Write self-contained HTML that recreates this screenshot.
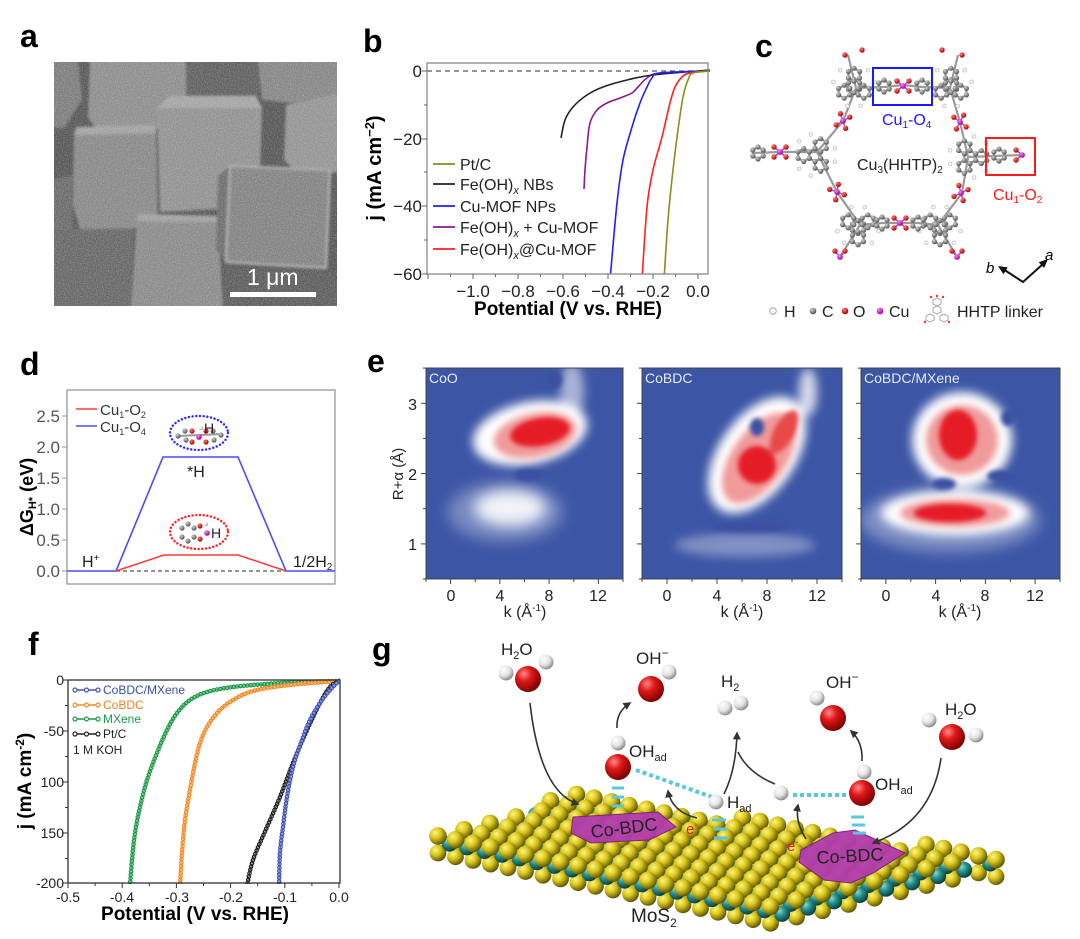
<!DOCTYPE html>
<html><head><meta charset="utf-8">
<style>
html,body{margin:0;padding:0;background:#fff;width:1080px;height:939px;overflow:hidden}
svg{display:block;font-family:"Liberation Sans",Arial,sans-serif}
.lbl{font-weight:bold;font-size:32px;fill:#000}
</style></head><body>
<svg id="S" xmlns="http://www.w3.org/2000/svg" width="1080" height="939" viewBox="0 0 1080 939">
<defs>
 <radialGradient id="gY" cx="35%" cy="32%" r="70%"><stop offset="0" stop-color="#fff480"/><stop offset="0.45" stop-color="#d9c61c"/><stop offset="1" stop-color="#5e5406"/></radialGradient>
 <radialGradient id="gT" cx="35%" cy="32%" r="70%"><stop offset="0" stop-color="#8ad8d2"/><stop offset="0.45" stop-color="#23908c"/><stop offset="1" stop-color="#0a3e3e"/></radialGradient>
 <radialGradient id="gR" cx="35%" cy="30%" r="72%"><stop offset="0" stop-color="#ff8a8a"/><stop offset="0.4" stop-color="#e01818"/><stop offset="1" stop-color="#7a0000"/></radialGradient>
 <radialGradient id="gW" cx="35%" cy="30%" r="72%"><stop offset="0" stop-color="#ffffff"/><stop offset="0.55" stop-color="#e4e4e4"/><stop offset="1" stop-color="#8a8a8a"/></radialGradient>
 <radialGradient id="gC" cx="35%" cy="30%" r="70%"><stop offset="0" stop-color="#d0d0d0"/><stop offset="1" stop-color="#555"/></radialGradient>
 <radialGradient id="gO" cx="35%" cy="30%" r="70%"><stop offset="0" stop-color="#ff7a7a"/><stop offset="1" stop-color="#b00000"/></radialGradient>
 <radialGradient id="gM" cx="35%" cy="30%" r="70%"><stop offset="0" stop-color="#ff80ff"/><stop offset="1" stop-color="#a000a0"/></radialGradient>
 <filter id="b8" x="-60%" y="-60%" width="220%" height="220%"><feGaussianBlur stdDeviation="7"/></filter>
 <filter id="b5" x="-60%" y="-60%" width="220%" height="220%"><feGaussianBlur stdDeviation="5"/></filter>
 <filter id="b3" x="-60%" y="-60%" width="220%" height="220%"><feGaussianBlur stdDeviation="3.5"/></filter>
 <filter id="b2" x="-60%" y="-60%" width="220%" height="220%"><feGaussianBlur stdDeviation="2.5"/></filter>
 <filter id="b1" x="-10%" y="-10%" width="120%" height="120%"><feGaussianBlur stdDeviation="1.2"/></filter>
 <filter id="grain" x="0" y="0" width="100%" height="100%"><feTurbulence type="fractalNoise" baseFrequency="0.85" numOctaves="2" seed="4"/><feColorMatrix type="matrix" values="0 0 0 0 1  0 0 0 0 1  0 0 0 0 1  0.6 0 0 0 -0.22"/></filter>
 <clipPath id="cA"><rect x="54" y="62" width="283" height="244"/></clipPath>
 <clipPath id="cB"><rect x="427" y="63" width="283" height="211"/></clipPath>
 <clipPath id="cF"><rect x="68" y="678" width="272" height="206"/></clipPath>
 <clipPath id="cE1"><rect x="426" y="368" width="197" height="211"/></clipPath>
 <clipPath id="cE2"><rect x="642" y="368" width="200" height="211"/></clipPath>
 <clipPath id="cE3"><rect x="861" y="368" width="199" height="211"/></clipPath>
 <marker id="ah" viewBox="0 0 10 10" refX="8" refY="5" markerWidth="5" markerHeight="5" orient="auto"><path d="M0,0 L10,5 L0,10 z" fill="#333"/></marker>
</defs>
<rect width="1080" height="939" fill="#fff"/>

<!-- ===== a ===== -->
<text class="lbl" x="20" y="47">a</text>
<g clip-path="url(#cA)">
 <rect x="54" y="62" width="283" height="244" fill="#565656"/>
 <g filter="url(#b1)">
  <path d="M48,60 L78,60 L82,100 L64,128 L48,128Z" fill="#7c7c7c"/>
  <path d="M48,180 L72,175 L74,300 L48,310Z" fill="#6a6a6a"/>
  <path d="M90,58 L188,58 L190,118 L184,129 L97,129 L88,118Z" fill="#8d8d8d"/>
  <path d="M186,58 L262,58 L258,96 L186,100Z" fill="#5f5f5f"/>
  <path d="M258,58 L340,58 L340,95 L292,103 L262,100Z" fill="#868686"/>
  <path d="M286,105 L340,93 L340,172 L300,176 L284,160Z" fill="#939393"/>
  <path d="M74,131 L156,129 L158,228 L80,229 L73,205Z" fill="#888"/>
  <path d="M76,127 L155,125 L156,133 L75,135Z" fill="#a2a2a2"/>
  <path d="M157,108 L170,96 L256,96 L262,108 L259,207 L160,212Z" fill="#919191"/>
  <path d="M157,108 L170,96 L256,96 L262,108Z" fill="#a4a4a4"/>
  <path d="M137,214 L218,216 L223,310 L131,310Z" fill="#8a8a8a"/>
  <path d="M137,214 L218,216 L219,222 L137,221Z" fill="#a0a0a0"/>
  <path d="M54,229 L133,229 L131,310 L54,310Z" fill="#666"/>
  <path d="M225,268 L340,272 L340,310 L223,310Z" fill="#5c5c5c"/>
  <path d="M218,176 L230,166 L228,262 L216,250Z" fill="#6c6c6c"/>
  <path d="M230,166 L330,170 L326,268 L226,262Z" fill="#828282" stroke="#a6a6a6" stroke-width="2.5" stroke-linejoin="round"/>
 </g>
 <rect x="54" y="62" width="283" height="244" filter="url(#grain)"/>
</g>
<rect x="230" y="292" width="86" height="5" fill="#fff"/>
<text x="247" y="285" font-size="23" fill="#fff">1 μm</text>

<!-- ===== b ===== -->
<text class="lbl" x="363" y="52">b</text>
<line x1="427" y1="71" x2="710" y2="71" stroke="#555" stroke-dasharray="5,4" stroke-width="1.2"/>
<g id="bC" clip-path="url(#cB)" fill="none" stroke-width="1.6" stroke-linejoin="round"></g>
<rect x="427" y="63" width="281" height="211" fill="none" stroke="#8a8a8a" stroke-width="1.3"/>
<g id="bT" stroke="#666" stroke-width="1"></g>
<g font-size="17" fill="#222" text-anchor="end"><text x="422" y="77">0</text><text x="422" y="145">−20</text><text x="422" y="212">−40</text><text x="422" y="280">−60</text></g>
<g font-size="17" fill="#222" text-anchor="middle"><text x="473" y="297">−1.0</text><text x="518" y="297">−0.8</text><text x="563" y="297">−0.6</text><text x="608" y="297">−0.4</text><text x="653" y="297">−0.2</text><text x="698" y="297">0.0</text></g>
<text font-size="19" font-weight="bold" x="568" y="315" text-anchor="middle">Potential (V vs. RHE)</text>
<text font-size="20" font-weight="bold" transform="translate(381,168) rotate(-90)" text-anchor="middle">j (mA cm<tspan dy="-7" font-size="13">−2</tspan><tspan dy="7">)</tspan></text>
<g stroke-width="1.8">
 <line x1="433" x2="455" y1="164" y2="164" stroke="#8c8c20"/>
 <line x1="433" x2="455" y1="184" y2="184" stroke="#222"/>
 <line x1="433" x2="455" y1="206" y2="206" stroke="#2020ff"/>
 <line x1="433" x2="455" y1="227" y2="227" stroke="#8b1a8b"/>
 <line x1="433" x2="455" y1="249" y2="249" stroke="#ff2020"/>
</g>
<g font-size="16" fill="#222">
 <text x="460" y="170">Pt/C</text>
 <text x="460" y="190">Fe(OH)<tspan font-style="italic" font-size="11" dy="4">x</tspan><tspan dy="-4"> NBs</tspan></text>
 <text x="460" y="212">Cu-MOF NPs</text>
 <text x="460" y="233">Fe(OH)<tspan font-style="italic" font-size="11" dy="4">x</tspan><tspan dy="-4"> + Cu-MOF</tspan></text>
 <text x="460" y="255">Fe(OH)<tspan font-style="italic" font-size="11" dy="4">x</tspan><tspan dy="-4">@Cu-MOF</tspan></text>
</g>

<!-- ===== c ===== -->
<text class="lbl" x="755" y="57">c</text>
<g id="mol"></g>
<rect x="873" y="68" width="59" height="37" fill="none" stroke="#1a1aff" stroke-width="2"/>
<rect x="986" y="138" width="49" height="37" fill="none" stroke="#ff1a1a" stroke-width="2"/>
<text x="882" y="125" font-size="16" fill="#1a1aff">Cu<tspan font-size="10" dy="3">1</tspan><tspan dy="-3">-O</tspan><tspan font-size="10" dy="3">4</tspan></text>
<text x="993" y="200" font-size="16" fill="#ff1a1a">Cu<tspan font-size="10" dy="3">1</tspan><tspan dy="-3">-O</tspan><tspan font-size="10" dy="3">2</tspan></text>
<text x="857" y="170" font-size="16" fill="#222">Cu<tspan font-size="10" dy="3">3</tspan><tspan dy="-3">(HHTP)</tspan><tspan font-size="10" dy="3">2</tspan></text>
<path d="M1003,269 L1023,282 L1043,264" fill="none" stroke="#111" stroke-width="2"/>
<polygon points="998,266 1007.7,267.4 1003.5,274.2" fill="#111"/>
<polygon points="1048,259 1044.1,268 1038.7,262.2" fill="#111"/>
<text x="986" y="273" font-size="15" font-style="italic">b</text>
<text x="1045" y="260" font-size="15" font-style="italic">a</text>
<circle cx="773" cy="311" r="3.3" fill="#f4f4f4" stroke="#999" stroke-width="0.8"/>
<text x="784" y="317" font-size="16" fill="#222">H</text>
<circle cx="813" cy="311" r="3.3" fill="url(#gC)"/>
<text x="822" y="317" font-size="16" fill="#222">C</text>
<circle cx="845" cy="311" r="3.3" fill="url(#gO)"/>
<text x="853" y="317" font-size="16" fill="#222">O</text>
<circle cx="880" cy="311" r="3.3" fill="url(#gM)"/>
<text x="889" y="317" font-size="16" fill="#222">Cu</text>
<g stroke="#999" stroke-width="0.8" fill="none">
 <polygon points="937,306 941,308 941,312 937,314 933,312 933,308"/>
 <polygon points="937,298 941,300 941,304 937,306 933,304 933,300"/>
 <polygon points="930,314 934,316 934,320 930,322 926,320 926,316"/>
 <polygon points="944,314 948,316 948,320 944,322 940,320 940,316"/>
</g>
<g fill="#e33"><circle cx="937" cy="296" r="1.2"/><circle cx="925" cy="322" r="1.2"/><circle cx="949" cy="322" r="1.2"/><circle cx="931" cy="297" r="1.2"/><circle cx="943" cy="297" r="1.2"/></g>
<text x="957" y="317" font-size="16" fill="#222">HHTP linker</text>

<!-- ===== d ===== -->
<text class="lbl" x="20" y="375">d</text>
<rect x="67" y="390" width="268" height="194" fill="none" stroke="#999" stroke-width="1.3"/>
<g stroke="#999" stroke-width="1"><line x1="62" x2="67" y1="571" y2="571"/><line x1="62" x2="67" y1="540" y2="540"/><line x1="62" x2="67" y1="509" y2="509"/><line x1="62" x2="67" y1="478" y2="478"/><line x1="62" x2="67" y1="447" y2="447"/><line x1="62" x2="67" y1="416" y2="416"/></g>
<g font-size="17" fill="#555" text-anchor="end"><text x="60" y="577">0.0</text><text x="60" y="546">0.5</text><text x="60" y="515">1.0</text><text x="60" y="484">1.5</text><text x="60" y="453">2.0</text><text x="60" y="422">2.5</text></g>
<text font-size="18" font-weight="bold" transform="translate(33,497) rotate(-90)" text-anchor="middle">ΔG<tspan font-size="11" dy="3">H*</tspan><tspan dy="-3"> (eV)</tspan></text>
<line x1="116" y1="571" x2="286" y2="571" stroke="#555" stroke-dasharray="4,3" stroke-width="1.2"/>
<polyline points="67,571 116,571 163,457 238,457 286,571 335,571" fill="none" stroke="#4a4aff" stroke-width="1.6"/>
<polyline points="116,571 164,555 238,555 286,571" fill="none" stroke="#ff3a3a" stroke-width="1.6"/>
<line x1="76" x2="97" y1="409" y2="409" stroke="#ff3a3a" stroke-width="1.6"/>
<line x1="76" x2="97" y1="426" y2="426" stroke="#4a4aff" stroke-width="1.6"/>
<text x="100" y="415" font-size="15" fill="#333">Cu<tspan font-size="9" dy="3">1</tspan><tspan dy="-3">-O</tspan><tspan font-size="9" dy="3">2</tspan></text>
<text x="100" y="432" font-size="15" fill="#333">Cu<tspan font-size="9" dy="3">1</tspan><tspan dy="-3">-O</tspan><tspan font-size="9" dy="3">4</tspan></text>
<ellipse cx="199" cy="433" rx="29" ry="17" fill="none" stroke="#2a2aff" stroke-width="2.4" stroke-dasharray="0.1,3.6" stroke-linecap="round"/>
<ellipse cx="199" cy="532" rx="29" ry="17" fill="none" stroke="#ff2020" stroke-width="2.4" stroke-dasharray="0.1,3.6" stroke-linecap="round"/>
<g>
 <line x1="178" y1="436" x2="222" y2="434" stroke="#999" stroke-width="2"/>
 <circle cx="178" cy="436" r="2.6" fill="url(#gC)"/><circle cx="185" cy="431" r="2.6" fill="url(#gC)"/><circle cx="186" cy="440" r="2.6" fill="url(#gC)"/>
 <circle cx="192" cy="431" r="2.6" fill="url(#gO)"/><circle cx="192" cy="442" r="2.6" fill="url(#gO)"/>
 <circle cx="206" cy="431" r="2.6" fill="url(#gO)"/><circle cx="206" cy="442" r="2.6" fill="url(#gO)"/>
 <circle cx="199" cy="437" r="2.8" fill="url(#gM)"/><circle cx="201" cy="428" r="2" fill="url(#gW)"/>
 <circle cx="213" cy="431" r="2.6" fill="url(#gC)"/><circle cx="214" cy="440" r="2.6" fill="url(#gC)"/><circle cx="221" cy="435" r="2.6" fill="url(#gC)"/>
 <text x="204" y="433" font-size="14" fill="#222">H</text>
</g>
<g>
 <circle cx="182" cy="528" r="2.6" fill="url(#gC)"/><circle cx="182" cy="537" r="2.6" fill="url(#gC)"/><circle cx="188" cy="524" r="2.6" fill="url(#gC)"/><circle cx="188" cy="541" r="2.6" fill="url(#gC)"/>
 <circle cx="194" cy="528" r="2.6" fill="url(#gC)"/><circle cx="194" cy="537" r="2.6" fill="url(#gC)"/>
 <circle cx="200" cy="526" r="2.6" fill="url(#gO)"/><circle cx="200" cy="539" r="2.6" fill="url(#gO)"/>
 <circle cx="207" cy="533" r="2.8" fill="url(#gM)"/><circle cx="206" cy="524" r="2" fill="url(#gW)"/>
 <text x="211" y="538" font-size="14" fill="#222">H</text>
</g>
<text x="187" y="477" font-size="16" fill="#222">*H</text>
<text x="82" y="567" font-size="16" fill="#222">H<tspan dy="-6" font-size="10">+</tspan></text>
<text x="293" y="567" font-size="16" fill="#222">1/2H<tspan dy="3" font-size="10">2</tspan></text>

<!-- ===== e ===== -->
<text class="lbl" x="367" y="372">e</text>
<!-- CoO -->
<g clip-path="url(#cE1)">
 <rect x="426" y="368" width="197" height="211" fill="#3c55a5"/>
 <g filter="url(#b8)" fill="#fff">
  <ellipse cx="505" cy="512" rx="58" ry="30" opacity="0.3"/>
  <ellipse cx="510" cy="508" rx="36" ry="18" opacity="0.9"/>
 </g>
 <g filter="url(#b5)" fill="#fff">
  <ellipse cx="530" cy="433" rx="58" ry="31" transform="rotate(-12 530 433)"/>
  <ellipse cx="572" cy="392" rx="12" ry="30" opacity="0.55"/>
 </g>
 <g filter="url(#b3)"><ellipse cx="535" cy="435" rx="42" ry="22" fill="#f09a9a" transform="rotate(-12 535 435)"/></g>
 <g filter="url(#b2)"><ellipse cx="540" cy="432" rx="30" ry="14" fill="#e51f25" transform="rotate(-10 540 432)"/></g>
 <g filter="url(#b2)" fill="#3a50a0"><ellipse cx="555" cy="380" rx="7" ry="9"/><ellipse cx="528" cy="475" rx="14" ry="6"/></g>
</g>
<rect x="426" y="368" width="197" height="211" fill="none" stroke="#444" stroke-width="1"/>
<!-- CoBDC -->
<g clip-path="url(#cE2)">
 <rect x="642" y="368" width="200" height="211" fill="#3c55a5"/>
 <g filter="url(#b5)" fill="#fff">
  <ellipse cx="745" cy="545" rx="70" ry="12" opacity="0.35"/>
  <ellipse cx="757" cy="455" rx="38" ry="66" transform="rotate(35 757 455)"/>
  <ellipse cx="808" cy="392" rx="9" ry="24" opacity="0.8"/>
 </g>
 <g filter="url(#b3)" fill="#f09a9a">
  <ellipse cx="759" cy="458" rx="27" ry="52" transform="rotate(35 759 458)"/>
 </g>
 <g filter="url(#b2)">
  <ellipse cx="757" cy="465" rx="19" ry="19" fill="#e51f25"/>
  <ellipse cx="784" cy="432" rx="10" ry="24" fill="#e84a4a" transform="rotate(28 784 432)"/>
 </g>
 <g filter="url(#b2)" fill="#3a50a0"><ellipse cx="757" cy="427" rx="7" ry="9"/><ellipse cx="750" cy="527" rx="40" ry="5"/></g>
</g>
<rect x="642" y="368" width="200" height="211" fill="none" stroke="#444" stroke-width="1"/>
<!-- MXene -->
<g clip-path="url(#cE3)">
 <rect x="861" y="368" width="199" height="211" fill="#3c55a5"/>
 <g filter="url(#b8)" fill="#fff"><ellipse cx="950" cy="520" rx="90" ry="32" opacity="0.35"/></g>
 <g filter="url(#b5)" fill="#fff">
  <ellipse cx="955" cy="513" rx="74" ry="22"/>
  <ellipse cx="962" cy="440" rx="50" ry="48"/>
 </g>
 <g filter="url(#b3)" fill="#f09a9a"><ellipse cx="962" cy="440" rx="36" ry="35"/><ellipse cx="955" cy="513" rx="55" ry="14"/></g>
 <g filter="url(#b2)" fill="#e51f25"><ellipse cx="958" cy="435" rx="19" ry="25"/><ellipse cx="950" cy="513" rx="36" ry="9"/></g>
 <g filter="url(#b2)" fill="#3a50a0"><ellipse cx="944" cy="484" rx="12" ry="6"/><ellipse cx="999" cy="476" rx="12" ry="6"/><ellipse cx="1008" cy="418" rx="7" ry="8"/></g>
</g>
<rect x="861" y="368" width="199" height="211" fill="none" stroke="#444" stroke-width="1"/>
<g font-size="14" fill="#e6e9f4"><text x="429" y="383">CoO</text><text x="645" y="383">CoBDC</text><text x="864" y="383">CoBDC/MXene</text></g>
<g id="eT" stroke="#444" stroke-width="1"></g>
<g font-size="16" fill="#222" text-anchor="end"><text x="417" y="410">3</text><text x="417" y="480">2</text><text x="417" y="550">1</text></g>
<g font-size="16" fill="#222" text-anchor="middle">
 <text x="451" y="601">0</text><text x="500" y="601">4</text><text x="549" y="601">8</text><text x="598" y="601">12</text>
 <text x="667" y="601">0</text><text x="717" y="601">4</text><text x="767" y="601">8</text><text x="817" y="601">12</text>
 <text x="886" y="601">0</text><text x="936" y="601">4</text><text x="985" y="601">8</text><text x="1035" y="601">12</text>
 <text x="525" y="617">k (Å<tspan dy="-6" font-size="10">-1</tspan><tspan dy="6">)</tspan></text>
 <text x="742" y="617">k (Å<tspan dy="-6" font-size="10">-1</tspan><tspan dy="6">)</tspan></text>
 <text x="960" y="617">k (Å<tspan dy="-6" font-size="10">-1</tspan><tspan dy="6">)</tspan></text>
</g>
<text font-size="15" fill="#222" transform="translate(403,474) rotate(-90)" text-anchor="middle">R+α (Å)</text>

<!-- ===== f ===== -->
<text class="lbl" x="28" y="655">f</text>
<g id="fC" clip-path="url(#cF)" fill="none"></g>
<rect x="68" y="680" width="272" height="203" fill="none" stroke="#333" stroke-width="1.3"/>
<g id="fT" stroke="#333" stroke-width="1"></g>
<g font-size="14" fill="#222" text-anchor="end"><text x="64" y="685">0</text><text x="64" y="736">-50</text><text x="64" y="787">100</text><text x="64" y="838">150</text><text x="64" y="888">-200</text></g>
<g font-size="14" fill="#222" text-anchor="middle"><text x="68" y="902">-0.5</text><text x="122" y="902">-0.4</text><text x="177" y="902">-0.3</text><text x="231" y="902">-0.2</text><text x="285" y="902">-0.1</text><text x="339" y="902">0.0</text></g>
<text font-size="19" font-weight="bold" x="195" y="920" text-anchor="middle">Potential (V vs. RHE)</text>
<text font-size="19" font-weight="bold" transform="translate(31,781) rotate(-90)" text-anchor="middle">j (mA cm<tspan dy="-7" font-size="12">-2</tspan><tspan dy="7">)</tspan></text>
<g id="fL"></g>
<g font-size="12">
 <text x="103" y="694" fill="#3a4fb0">CoBDC/MXene</text>
 <text x="103" y="709" fill="#f08020">CoBDC</text>
 <text x="103" y="723" fill="#1a9a50">MXene</text>
 <text x="103" y="738" fill="#222">Pt/C</text>
 <text x="73" y="754" fill="#222">1 M KOH</text>
</g>

<!-- ===== g ===== -->
<text class="lbl" x="372" y="660">g</text>
<g id="mos"></g>
<path d="M573,817 L658,812 L676,827 L649,840 L591,843 L571,833Z" fill="#b23cae" stroke="#7a1e78" stroke-width="1" opacity="0.95"/>
<path d="M801,850 L833,833 L855,830 L905,853 L873,873 L851,883 L824,880 L799,862Z" fill="#b23cae" stroke="#7a1e78" stroke-width="1" opacity="0.95"/>
<text x="624" y="834" font-size="18" fill="#222" text-anchor="middle" transform="rotate(-7 624 828)">Co-BDC</text>
<text x="850" y="862" font-size="18" fill="#222" text-anchor="middle" transform="rotate(-3 850 856)">Co-BDC</text>
<g stroke="#5ac8dc" stroke-width="4" fill="none">
 <line x1="636" y1="770" x2="712" y2="797" stroke-dasharray="4,3"/>
 <line x1="793" y1="795" x2="848" y2="795" stroke-dasharray="4,3"/>
 <g stroke-width="3"><line x1="612" y1="788" x2="624" y2="788"/><line x1="612" y1="797" x2="624" y2="797"/><line x1="612" y1="806" x2="624" y2="806"/>
 <line x1="712" y1="820" x2="726" y2="820"/><line x1="713" y1="829" x2="727" y2="829"/><line x1="714" y1="838" x2="728" y2="838"/>
 <line x1="851" y1="817" x2="864" y2="817"/><line x1="852" y1="825" x2="865" y2="825"/><line x1="853" y1="833" x2="866" y2="833"/></g>
</g>
<g fill="none" stroke="#333" stroke-width="1.6">
 <path d="M530,703 Q540,792 578,804" marker-end="url(#ah)"/>
 <path d="M617,728 Q616,712 630,703" marker-end="url(#ah)"/>
 <path d="M724,794 Q736,770 737,733" marker-end="url(#ah)"/>
 <path d="M775,784 Q748,773 738,752"/>
 <path d="M697,818 Q672,812 668,791" marker-end="url(#ah)"/>
 <path d="M806,839 Q795,822 798,805" marker-end="url(#ah)"/>
 <path d="M862,761 Q863,742 851,731" marker-end="url(#ah)"/>
 <path d="M941,758 Q932,822 873,843" marker-end="url(#ah)"/>
</g>
<circle cx="506" cy="673" r="7.5" fill="url(#gW)"/><circle cx="546" cy="662" r="7.5" fill="url(#gW)"/><circle cx="528" cy="679" r="13" fill="url(#gR)"/>
<circle cx="669" cy="672" r="7.5" fill="url(#gW)"/><circle cx="651" cy="689" r="13" fill="url(#gR)"/>
<circle cx="725" cy="708" r="7.5" fill="url(#gW)"/><circle cx="741" cy="703" r="7.5" fill="url(#gW)"/>
<circle cx="817" cy="698" r="7.5" fill="url(#gW)"/><circle cx="833" cy="718" r="13" fill="url(#gR)"/>
<circle cx="929" cy="720" r="7.5" fill="url(#gW)"/><circle cx="976" cy="735" r="7.5" fill="url(#gW)"/><circle cx="952" cy="737" r="13" fill="url(#gR)"/>
<circle cx="618" cy="743" r="7.5" fill="url(#gW)"/><circle cx="618" cy="767" r="13" fill="url(#gR)"/>
<circle cx="716" cy="802" r="7.5" fill="url(#gW)"/>
<circle cx="781" cy="793" r="7.5" fill="url(#gW)"/>
<circle cx="864" cy="772" r="7.5" fill="url(#gW)"/><circle cx="862" cy="793" r="13" fill="url(#gR)"/>
<g font-size="17" fill="#222">
 <text x="501" y="655">H<tspan font-size="11" dy="4">2</tspan><tspan dy="-4">O</tspan></text>
 <text x="636" y="664">OH<tspan dy="-7" font-size="12">−</tspan></text>
 <text x="721" y="687">H<tspan font-size="11" dy="4">2</tspan></text>
 <text x="826" y="688">OH<tspan dy="-7" font-size="12">−</tspan></text>
 <text x="945" y="715">H<tspan font-size="11" dy="4">2</tspan><tspan dy="-4">O</tspan></text>
 <text x="629" y="757">OH<tspan font-size="11" dy="4">ad</tspan></text>
 <text x="727" y="808">H<tspan font-size="11" dy="4">ad</tspan></text>
 <text x="875" y="790">OH<tspan font-size="11" dy="4">ad</tspan></text>
</g>
<text x="686" y="834" font-size="15" fill="#e02020">e<tspan dy="-6" font-size="9">-</tspan></text>
<text x="787" y="851" font-size="15" fill="#e02020">e<tspan dy="-6" font-size="9">-</tspan></text>
<text x="631" y="922" font-size="19" fill="#222">MoS<tspan font-size="12" dy="5">2</tspan></text>
</svg>
<script>
(function(){
const NS="http://www.w3.org/2000/svg";
const f=v=>(+v).toFixed(1);
function E(t,a,p){const e=document.createElementNS(NS,t);for(const k in a)e.setAttribute(k,a[k]);p.appendChild(e);return e;}
function cr(pts){
 let d="M"+pts[0][0]+","+pts[0][1];
 for(let i=0;i<pts.length-1;i++){
  const p0=pts[i-1]||pts[i],p1=pts[i],p2=pts[i+1],p3=pts[i+2]||p2;
  const c1=[p1[0]+(p2[0]-p0[0])/6,p1[1]+(p2[1]-p0[1])/6];
  const c2=[p2[0]-(p3[0]-p1[0])/6,p2[1]-(p3[1]-p1[1])/6];
  d+=" C"+f(c1[0])+","+f(c1[1])+" "+f(c2[0])+","+f(c2[1])+" "+p2[0]+","+p2[1];
 }
 return d;
}
/* panel b */
const bC=document.getElementById('bC');
const bs=[
 ['#8b1a8b',[[710,71],[660,73],[647,78],[638,87],[632,93],[620,98],[607,103],[597,110],[590,123],[587,147],[585,170],[584,189]]],
 ['#222',[[710,70],[653,75],[627,80],[603,87],[587,95],[573,107],[565,120],[561,138]]],
 ['#2020ff',[[710,71],[660,73],[652,78],[647,87],[640,103],[632,127],[623,160],[617,203],[610,280]]],
 ['#ff2020',[[710,71],[690,73],[682,77],[675,87],[670,103],[662,137],[653,170],[647,207],[642,280]]],
 ['#8c8c20',[[710,71],[693,73],[688,80],[683,97],[678,130],[673,170],[668,220],[664,280]]]
];
bs.forEach(s=>E('path',{d:cr(s[1]),stroke:s[0]},bC));
const bT=document.getElementById('bT');
[71,139,206,274].forEach(y=>E('line',{x1:422,x2:427,y1:y,y2:y},bT));
[105,172,240].forEach(y=>E('line',{x1:424,x2:427,y1:y,y2:y},bT));
for(let k=0;k<14;k++){const x=698-22.5*k;if(x<428)break;E('line',{x1:f(x),x2:f(x),y1:274,y2:k%2?277:279},bT);}
/* panel e ticks */
const eT=document.getElementById('eT');
[[426,197],[642,200],[861,199]].forEach(m=>{
 for(let k=-2;k<=14;k+=2){const x=m[0]+(k+2)*m[1]/16;E('line',{x1:f(x),x2:f(x),y1:579,y2:k%4===0?584:582},eT);}
 for(let r=0.5;r<=3.5;r+=0.5){const y=579-(r-0.5)*70.3;E('line',{x1:m[0]-(r%1===0?5:3),x2:m[0],y1:f(y),y2:f(y)},eT);}
});
/* panel f */
const fC=document.getElementById('fC');
const fs=[
 ['#1f9a4a',[[339,681],[300,682],[267,684],[233,687],[207,692],[190,700],[177,713],[167,730],[157,753],[147,780],[140,807],[135,833],[132,860],[130,886]]],
 ['#f28c28',[[339,681],[300,684],[267,688],[247,693],[230,702],[217,713],[207,727],[200,743],[195,763],[190,790],[185,820],[182,853],[180,886]]],
 ['#222',[[339,681],[330,687],[320,703],[307,730],[293,763],[280,797],[267,827],[253,860],[247,886]]],
 ['#4055b5',[[339,681],[330,690],[320,703],[310,720],[302,740],[293,767],[287,797],[283,827],[280,853],[279,886]]]
];
fs.forEach(s=>{const d=cr(s[1]);
 E('path',{d:d,stroke:s[0],'stroke-width':4.6,'stroke-dasharray':'0 3.4','stroke-linecap':'round'},fC);
 E('path',{d:d,stroke:'#fff','stroke-width':2,'stroke-dasharray':'0 3.4','stroke-linecap':'round'},fC);
 E('path',{d:d,stroke:s[0],'stroke-width':0.8},fC);
});
const fT=document.getElementById('fT');
[680,731,782,833,883].forEach(y=>E('line',{x1:63,x2:68,y1:y,y2:y},fT));
[705.5,756.5,807.5,858.5].forEach(y=>E('line',{x1:65,x2:68,y1:y,y2:y},fT));
for(let k=0;k<=10;k++){const x=68+27.1*k;E('line',{x1:f(x),x2:f(x),y1:883,y2:k%2?886:888},fT);}
const fL=document.getElementById('fL');
[['#4055b5',690],['#f28c28',705],['#1f9a4a',719],['#222',734]].forEach(a=>{
 E('line',{x1:73,x2:100,y1:a[1],y2:a[1],stroke:a[0],'stroke-width':1.5},fL);
 [75,86.5,98].forEach(x=>E('circle',{cx:x,cy:a[1],r:2,fill:'#fff',stroke:a[0],'stroke-width':1.2},fL));
});
/* panel c molecule */
const mol=document.getElementById('mol');
const bb=E('g',{stroke:'#9a9a9a','stroke-width':2.2,fill:'none'},mol);
const loop=[[856,88],[884,87],[903,85],[922,87],[950,88],[960,122],[968,157],[962,193],[938,225],[918,223],[900,223],[882,223],[860,225],[837,192],[817,152],[843,121],[856,88]];
E('polyline',{points:loop.map(p=>p.join(',')).join(' ')},bb);
[[[817,152],[780,152],[752,153]],[[968,157],[1022,155]],[[860,225],[840,257]],[[938,225],[957,257]],[[856,88],[848,55]],[[950,88],[958,55]]].forEach(l=>E('polyline',{points:l.map(p=>p.join(',')).join(' ')},bb));
function ringAt(cx,cy,r){
 const pts=[];for(let k=0;k<6;k++){const a=(60*k+30)*Math.PI/180;pts.push([cx+r*Math.cos(a),cy+r*Math.sin(a)]);}
 E('polygon',{points:pts.map(p=>f(p[0])+','+f(p[1])).join(' '),fill:'none',stroke:'#8c8c8c','stroke-width':2},mol);
 pts.forEach(p=>E('circle',{cx:f(p[0]),cy:f(p[1]),r:2.6,fill:'url(#gC)'},mol));
}
function tri(cx,cy,rot){
 ringAt(cx,cy,6.5);
 for(let k=0;k<3;k++){const a=(rot+120*k)*Math.PI/180;ringAt(cx+11.3*Math.cos(a),cy+11.3*Math.sin(a),6.5);
  for(const s of [-1,1]){const b=a+s*0.72;E('circle',{cx:f(cx+21*Math.cos(b)),cy:f(cy+21*Math.sin(b)),r:2,fill:'#f2f2f2',stroke:'#aaa','stroke-width':0.5},mol);}
 }
}
function cu(cx,cy,ang,half){
 const a=ang*Math.PI/180;
 const os=half?[[-6,-5],[-6,5]]:[[-6,-5],[-6,5],[6,-5],[6,5]];
 for(const [dx,dy] of os){
  const x=cx+dx*Math.cos(a)-dy*Math.sin(a),y=cy+dx*Math.sin(a)+dy*Math.cos(a);
  E('line',{x1:cx,y1:cy,x2:f(x),y2:f(y),stroke:'#b050b0','stroke-width':1.5},mol);
  E('circle',{cx:f(x),cy:f(y),r:2.7,fill:'url(#gO)'},mol);
 }
 E('circle',{cx:cx,cy:cy,r:2.9,fill:'url(#gM)'},mol);
}
tri(854,86,-90);tri(951,86,-90);tri(815,155,180);tri(970,157,0);tri(858,227,90);tri(940,227,90);
ringAt(884,86,6);ringAt(922,86,6);cu(903,86,0);
cu(843,121,110);cu(837,192,60);
ringAt(882,223,6);ringAt(918,223,6);cu(900,223,0);
cu(961,193,114);cu(960,122,78);
ringAt(758,153,6);cu(780,152,0);
ringAt(999,155,6);cu(1022,155,0,true);
cu(840,257,90,true);cu(957,257,90,true);
[[845,55],[862,50],[942,50],[962,55]].forEach(p=>E('circle',{cx:p[0],cy:p[1],r:2.7,fill:'url(#gO)'},mol));
/* panel g MoS2 */
const mos=document.getElementById('mos');
const a1=[17.5,3.7],a2=[8.5,-10];
const poly=[[438,836],[770,908],[1012,857],[574,793]];
function inside(x,y){
 for(let k=0;k<4;k++){const p=poly[k],q=poly[(k+1)%4];const c=(q[0]-p[0])*(y-p[1])-(q[1]-p[1])*(x-p[0]);if(c>0)return false;}
 return true;
}
function layer(ox,oy,dy,fill,r){
 const arr=[];
 for(let i=-10;i<=40;i++)for(let j=-25;j<=25;j++){
  const x=438+ox+i*a1[0]+j*a2[0],y=836+oy+i*a1[1]+j*a2[1];
  if(!inside(x,y))continue;
  arr.push([x,y+dy]);
 }
 arr.sort((a,b)=>a[1]-b[1]);
 arr.forEach(p=>E('circle',{cx:f(p[0]),cy:f(p[1]),r:r,fill:fill},mos));
}
layer(0,0,17,'url(#gY)',8.4);
layer(11.6,-1.4,9,'url(#gT)',8);
layer(0,0,0,'url(#gY)',8.8);
})();
</script>
</body></html>
